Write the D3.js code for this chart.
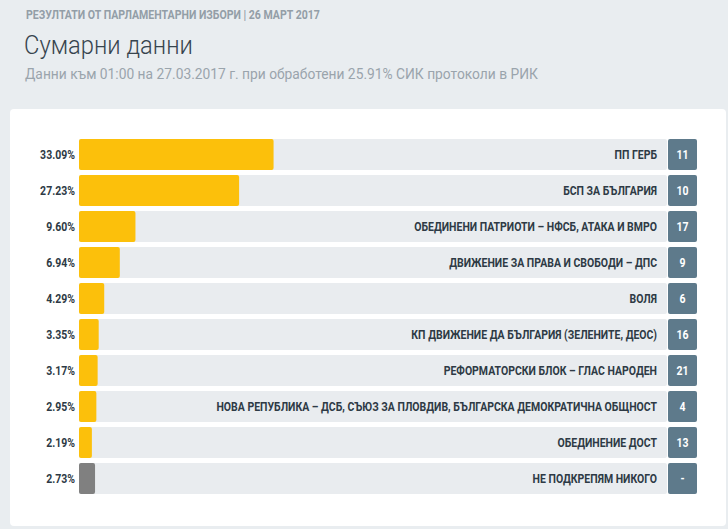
<!DOCTYPE html>
<html>
<head>
<meta charset="utf-8">
<script src="https://cdn.jsdelivr.net/npm/d3@7"></script>
<style>
  html, body { margin: 0; padding: 0; background: #e9edf0; }
  svg { display: block; font-family: Roboto, "Noto Sans", sans-serif; }
</style>
</head>
<body>
<div id="chart"></div>
<script>
// party names, vote share (%) and ballot number
const parties = [
  "ПП ГЕРБ",
  "БСП ЗА БЪЛГАРИЯ",
  "ОБЕДИНЕНИ ПАТРИОТИ – НФСБ, АТАКА И ВМРО",
  "ДВИЖЕНИЕ ЗА ПРАВА И СВОБОДИ – ДПС",
  "ВОЛЯ",
  "КП ДВИЖЕНИЕ ДА БЪЛГАРИЯ (ЗЕЛЕНИТЕ, ДЕОС)",
  "РЕФОРМАТОРСКИ БЛОК – ГЛАС НАРОДЕН",
  "НОВА РЕПУБЛИКА – ДСБ, СЪЮЗ ЗА ПЛОВДИВ, БЪЛГАРСКА ДЕМОКРАТИЧНА ОБЩНОСТ",
  "ОБЕДИНЕНИЕ ДОСТ",
  "НЕ ПОДКРЕПЯМ НИКОГО"
];
const percents = [33.09, 27.23, 9.60, 6.94, 4.29, 3.35, 3.17, 2.95, 2.19, 2.73];
const ballotNumbers = ["11", "10", "17", "9", "6", "16", "21", "4", "13", "-"];

const width = 728, height = 529;
const condense = 0.84; // fake a condensed face for the row labels

const data = parties.map((p, i) => ({party: p, pct: percents[i], num: ballotNumbers[i], none: ballotNumbers[i] === "-"}));

const svg = d3.select("#chart").append("svg")
  .attr("width", width)
  .attr("height", height);

svg.append("rect").attr("width", width).attr("height", height).attr("fill", "#e9edf0");

// header texts
svg.append("text")
  .attr("transform", "translate(26,19) scale(0.88,1)")
  .attr("font-size", 12).attr("font-weight", 700).attr("fill", "#939ea7")
  .text("РЕЗУЛТАТИ ОТ ПАРЛАМЕНТАРНИ ИЗБОРИ | 26 МАРТ 2017");

svg.append("text")
  .attr("transform", "translate(24,54) scale(0.95,1)")
  .attr("font-size", 25).attr("font-weight", 300).attr("fill", "#37444e")
  .text("Сумарни данни");

svg.append("text")
  .attr("transform", "translate(25,79) scale(0.92,1)")
  .attr("font-size", 15).attr("font-weight", 400).attr("fill", "#9aa4ac")
  .text("Данни към 01:00 на 27.03.2017 г. при обработени 25.91% СИК протоколи в РИК");

// white panel
svg.append("rect")
  .attr("x", 10).attr("y", 109)
  .attr("width", 716).attr("height", 417)
  .attr("rx", 4)
  .attr("fill", "#ffffff");

const x = d3.scaleLinear().domain([0, 100]).range([79, 667]);
const y = d3.scaleBand().domain(parties).range([139, 494]).paddingInner(5 / 36);

const rows = svg.append("g").selectAll("g")
  .data(data)
  .join("g")
    .attr("transform", d => `translate(0,${y(d.party)})`);

// background track
rows.append("rect")
  .attr("x", x(0))
  .attr("width", x(100) - x(0))
  .attr("height", y.bandwidth())
  .attr("rx", 2)
  .attr("fill", "#e9ecef");

// value bar
rows.append("rect")
  .attr("x", x(0))
  .attr("width", d => x(d.pct) - x(0))
  .attr("height", y.bandwidth())
  .attr("rx", 2)
  .attr("fill", d => d.none ? "#808080" : "#fcc00b");

// ballot number box
rows.append("rect")
  .attr("x", x(100) + 1)
  .attr("width", 29)
  .attr("height", y.bandwidth())
  .attr("rx", 2)
  .attr("fill", "#5e7a8b");

rows.append("text")
  .attr("transform", `translate(${x(100) + 15.5},${y.bandwidth() / 2 + 4.5}) scale(${condense},1)`)
  .attr("text-anchor", "middle")
  .attr("font-size", 12.5).attr("font-weight", 700).attr("fill", "#ffffff")
  .text(d => d.num);

// party label
rows.append("text")
  .attr("transform", `translate(${x(100) - 10},${y.bandwidth() / 2 + 4.5}) scale(${condense},1)`)
  .attr("text-anchor", "end")
  .attr("font-size", 12.5).attr("font-weight", 700).attr("fill", "#2e3a45")
  .text(d => d.party);

// percentage label
rows.append("text")
  .attr("transform", `translate(${x(0) - 4},${y.bandwidth() / 2 + 4.5}) scale(${condense},1)`)
  .attr("text-anchor", "end")
  .attr("font-size", 12.5).attr("font-weight", 700).attr("fill", "#2e3a45")
  .text(d => d.pct.toFixed(2) + "%");
</script>
</body>
</html>
